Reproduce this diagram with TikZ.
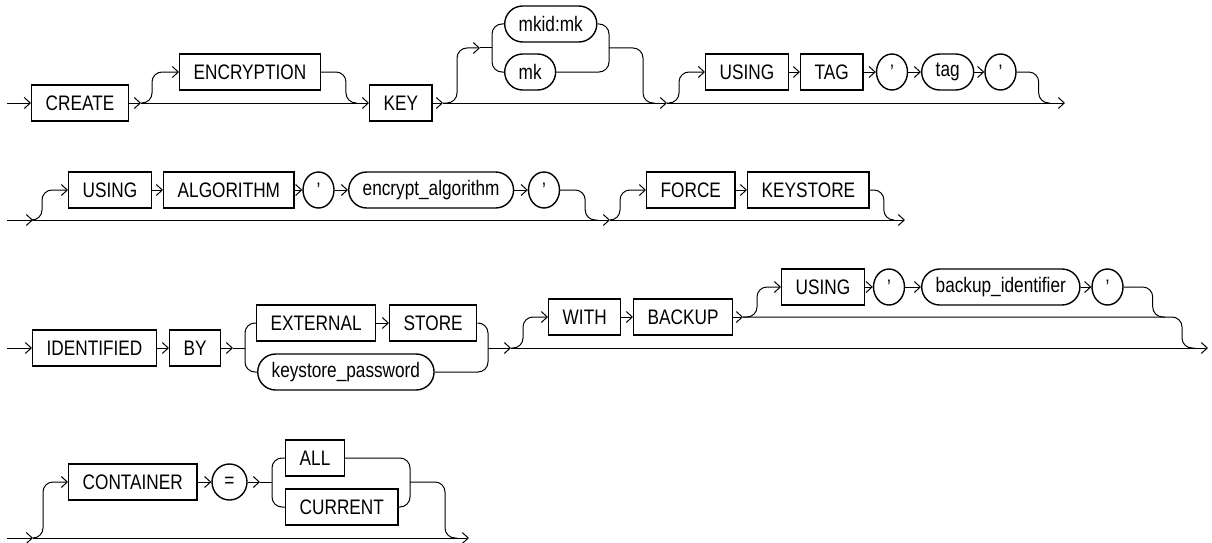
\documentclass[tikz,border=0pt]{standalone}
\usepackage{fontspec}
\setmainfont{Liberation Sans}[FakeStretch=0.82]
\usetikzlibrary{arrows.meta,shapes.geometric}
\tikzset{
  kw/.style={draw, line width=1.4pt, rectangle, minimum height=36pt, inner xsep=14pt, inner ysep=0pt, anchor=west, font=\fontsize{21}{25}\selectfont},
  var/.style={kw, rounded corners=18pt},
  sym/.style={draw, line width=1.4pt, ellipse, minimum width=31pt, minimum height=36pt, inner sep=0pt, font=\fontsize{21}{25}\selectfont},
  rail/.style={line width=1pt, rounded corners=10pt},
  arr/.style={-{Straight Barb[length=6pt,width=11pt]}}
}
\begin{document}
\begin{tikzpicture}[x=1pt,y=-1pt]
\useasboundingbox (0,0) rectangle (1212,543);
% ---------- Row 1 ----------
\coordinate (r1s) at (7,103);
\node[kw] (create) at (31,103) {CREATE};
\coordinate (s1) at (141,103);
\node[kw] (encryption) at (179,72) {ENCRYPTION};
\coordinate (m1) at (357,103);
\node[kw] (key) at (369,103) {KEY};
\coordinate (s2) at (443,103);
\coordinate (c1) at (480,48);
\coordinate (c1l) at (492,48);
\node[var] (mkidmk) at (504,24) {mkid:mk};
\node[var] (mk) at (504,72) {mk};
\coordinate (c1r) at (609,48);
\coordinate (m2) at (655,103);
\coordinate (s3) at (667,103);
\node[kw] (using1) at (705,72) {USING};
\node[kw] (tag) at (800,72) {TAG};
\node[sym] (q1) at (892,72) {'};
\node[var] (tagv) at (921,72) {tag};
\node[sym] (q2) at (1000.5,72) {'};
\coordinate (m3) at (1050,103);
\coordinate (r1e) at (1065,103);

\draw[rail,arr] (r1s) -- (create.west);
\draw[rail,arr] (create.east) -- (s1);
\draw[rail,arr] (s1) -- (key.west);
\draw[rail,arr] (s1) -- ++(11,0) |- (encryption.west);
\draw[rail] (encryption.east) -- ++(25,0) |- (m1);
\draw[rail,arr] (key.east) -- (s2);
\draw[rail,arr] (s2) -- (s3);
\draw[rail,arr] (s2) -- ++(14,0) |- (c1);
\draw[rail] (c1) -- (c1l);
\draw[rail] (mkidmk.west) -| (c1l) |- (mk.west);
\draw[rail] (mkidmk.east) -| (c1r) |- (mk.east);
\draw[rail] (c1r) -- ++(34,0) |- (m2);
\draw[rail,arr] (s3) -- (r1e);
\draw[rail,arr] (s3) -- ++(12,0) |- (using1.west);
\draw[rail,arr] (using1.east) -- (tag.west);
\draw[rail,arr] (tag.east) -- (q1.west);
\draw[rail,arr] (q1.east) -- (tagv.west);
\draw[rail,arr] (tagv.east) -- (q2.west);
\draw[rail] (q2.east) -- ++(22,0) |- (m3);

% ---------- Row 2 ----------
\coordinate (r2s) at (7,220);
\coordinate (s4) at (33,220);
\node[kw] (using2) at (68,190) {USING};
\node[kw] (algorithm) at (163,190) {ALGORITHM};
\node[sym] (q3) at (318.5,190) {'};
\node[var] (encalg) at (348,190) {encrypt\_algorithm};
\node[sym] (q4) at (544,190) {'};
\coordinate (m4) at (598,220);
\coordinate (s5) at (610,220);
\node[kw] (force) at (646,190) {FORCE};
\node[kw] (keystore) at (747,190) {KEYSTORE};
\coordinate (m5) at (893,220);
\coordinate (r2e) at (905,220);

\draw[rail,arr] (r2s) -- (s4);
\draw[rail,arr] (s4) -- (s5);
\draw[rail,arr] (s4) -- ++(9,0) |- (using2.west);
\draw[rail,arr] (using2.east) -- (algorithm.west);
\draw[rail,arr] (algorithm.east) -- (q3.west);
\draw[rail,arr] (q3.east) -- (encalg.west);
\draw[rail,arr] (encalg.east) -- (q4.west);
\draw[rail] (q4.east) -- ++(25,0) |- (m4);
\draw[rail,arr] (s5) -- (r2e);
\draw[rail,arr] (s5) -- ++(10,0) |- (force.west);
\draw[rail,arr] (force.east) -- (keystore.west);
\draw[rail] (keystore.east) -- ++(14,0) |- (m5);

% ---------- Row 3 ----------
\coordinate (r3s) at (7,348);
\node[kw] (identified) at (32,348) {IDENTIFIED};
\node[kw] (by) at (169,348) {BY};
\coordinate (s6) at (233,348);
\coordinate (c6l) at (245,348);
\node[kw] (external) at (256,323) {EXTERNAL};
\node[kw] (store) at (389,323) {STORE};
\node[var] (kspw) at (257,372) {keystore\_password};
\coordinate (c6r) at (488,348);
\coordinate (s7) at (511,348);
\node[kw] (with) at (548,317) {WITH};
\node[kw] (backup) at (633,317) {BACKUP};
\coordinate (s8) at (743,317);
\node[kw] (using3) at (781,287) {USING};
\node[sym] (q5) at (889,287) {'};
\node[var] (bkid) at (921,287) {backup\_identifier};
\node[sym] (q6) at (1107.5,287) {'};
\coordinate (m7) at (1165,317);
\coordinate (m8) at (1195,348);
\coordinate (r3e) at (1208,348);

\draw[rail,arr] (r3s) -- (identified.west);
\draw[rail,arr] (identified.east) -- (by.west);
\draw[rail,arr] (by.east) -- (s6);
\draw[rail] (s6) -- (c6l);
\draw[rail] (external.west) -| (c6l) |- (kspw.west);
\draw[rail,arr] (external.east) -- (store.west);
\draw[rail] (store.east) -| (c6r) |- (kspw.east);
\draw[rail,arr] (c6r) -- (s7);
\draw[rail,arr] (s7) -- (r3e);
\draw[rail,arr] (s7) -- ++(12,0) |- (with.west);
\draw[rail,arr] (with.east) -- (backup.west);
\draw[rail,arr] (backup.east) -- (s8);
\draw[rail,arr] (s8) -- ++(14,0) |- (using3.west);
\draw[rail,arr] (using3.east) -- (q5.west);
\draw[rail,arr] (q5.east) -- (bkid.west);
\draw[rail,arr] (bkid.east) -- (q6.west);
\draw[rail] (q6.east) -- ++(29,0) |- (m7);
\draw[rail] (s8) -- ++(439,0) |- (m8);

% ---------- Row 4 ----------
\coordinate (r4s) at (7,538);
\coordinate (s9) at (33,538);
\node[kw] (container) at (68,482) {CONTAINER};
\node[sym, minimum width=35pt] (eq) at (229.5,482) {=};
\coordinate (c9) at (260,482);
\coordinate (c9l) at (272,482);
\node[kw] (all) at (285,458) {ALL};
\node[kw] (current) at (285,507) {CURRENT};
\coordinate (c9r) at (410,482);
\coordinate (m9) at (457,538);
\coordinate (r4e) at (469,538);

\draw[rail,arr] (r4s) -- (s9);
\draw[rail,arr] (s9) -- (r4e);
\draw[rail,arr] (s9) -- ++(10,0) |- (container.west);
\draw[rail,arr] (container.east) -- (eq.west);
\draw[rail,arr] (eq.east) -- (c9);
\draw[rail] (c9) -- (c9l);
\draw[rail] (all.west) -| (c9l) |- (current.west);
\draw[rail] (all.east) -| (c9r) |- (current.east);
\draw[rail] (c9r) -- ++(35,0) |- (m9);
\end{tikzpicture}
\end{document}
